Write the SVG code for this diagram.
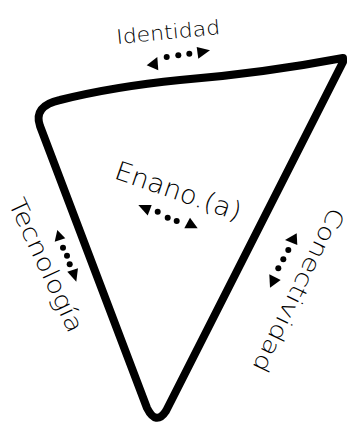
<svg xmlns="http://www.w3.org/2000/svg" width="351" height="427" viewBox="0 0 351 427">
  <style>
    .lbl { font-family: "DejaVu Sans", "Liberation Sans", sans-serif; font-weight: 200; fill: #000; }
    .tri { fill: none; stroke: #000; stroke-width: 8; stroke-linejoin: round; stroke-linecap: round; }
    .ah { fill: #000; }
  </style>
  <rect width="351" height="427" fill="#fff"/>
  <g id="triangle">
    <path class="tri" d="M 343,58 C 290,68 230,76 180,80 C 140,84 100,90 60,100 Q 33,106 40,126 L 147,408 Q 156,426 166,411 L 343,62 Z"/>
  </g>
  <g id="node-enano">
    <text class="lbl" font-size="26" textLength="132" lengthAdjust="spacingAndGlyphs" transform="translate(113,178) rotate(19)">Enano.(a)</text>
  </g>
  <g id="node-identidad">
    <text class="lbl" font-size="20" textLength="104" lengthAdjust="spacingAndGlyphs" transform="translate(117,44) rotate(-5.5)">Identidad</text>
  </g>
  <g id="node-tecnologia">
    <text class="lbl" font-size="24" textLength="145" lengthAdjust="spacingAndGlyphs" transform="translate(8,203) rotate(65)">Tecnología</text>
  </g>
  <g id="node-conectividad">
    <text class="lbl" font-size="23" textLength="180" lengthAdjust="spacingAndGlyphs" transform="translate(331,206) rotate(116)">Conectividad</text>
  </g>
  <g id="connectors" class="ah">
    <g id="arrow-identidad">
      <polygon points="146.7,65.3 157.3,57 158.3,70.3"/>
      <circle cx="166.7" cy="57" r="3"/>
      <circle cx="178.3" cy="55.3" r="3"/>
      <circle cx="189.3" cy="53.7" r="3"/>
      <polygon points="196.7,47 210,50.3 198.3,58.7"/>
    </g>
    <g id="arrow-enano">
      <polygon points="138.3,205 151.7,205 147.7,215.5"/>
      <circle cx="157.7" cy="211.7" r="3"/>
      <circle cx="167.7" cy="217.7" r="3"/>
      <circle cx="176.7" cy="221" r="3"/>
      <polygon points="184.3,228.3 197.7,228.3 190,217.7"/>
    </g>
    <g id="arrow-tecnologia">
      <polygon points="57.3,230 54.7,241.7 65.3,238.3"/>
      <circle cx="63" cy="247.7" r="3"/>
      <circle cx="67" cy="255.7" r="3"/>
      <circle cx="69.7" cy="264.3" r="3"/>
      <polygon points="67.3,271.7 78,268.3 76.3,281.7"/>
    </g>
    <g id="arrow-conectividad">
      <polygon points="285,240 296.7,233.3 297.3,245"/>
      <circle cx="288.3" cy="250" r="3"/>
      <circle cx="283.3" cy="259.3" r="3"/>
      <circle cx="278.3" cy="268.3" r="3"/>
      <polygon points="269.3,274.3 270,287.7 280.7,280"/>
    </g>
  </g>
</svg>
